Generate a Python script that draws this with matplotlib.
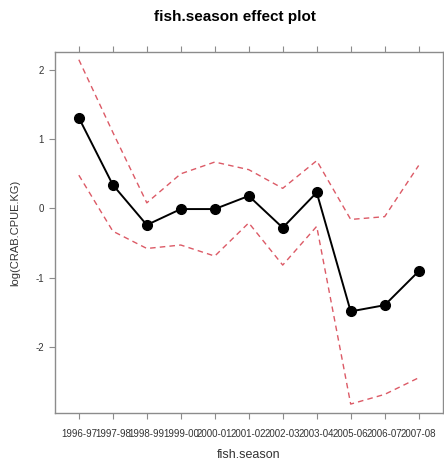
import matplotlib.pyplot as plt
import numpy as np

plt.rcParams['font.family'] = ['Liberation Sans', 'DejaVu Sans']

seasons = ["1996-97", "1997-98", "1998-99", "1999-00", "2000-01", "2001-02",
           "2002-03", "2003-04", "2005-06", "2006-07", "2007-08"]
effect = [1.31, 0.34, -0.24, -0.01, -0.01, 0.18, -0.28, 0.23, -1.49, -1.40, -0.91]
upper = [2.15, 1.10, 0.08, 0.50, 0.67, 0.56, 0.29, 0.69, -0.16, -0.12, 0.62]
lower = [0.48, -0.33, -0.58, -0.53, -0.69, -0.21, -0.82, -0.26, -2.83, -2.69, -2.45]
y_ticks = [-2, -1, 0, 1, 2]

fig = plt.figure(figsize=(4.44, 4.61), dpi=100)
ax = fig.add_axes([0.124, 0.104, 0.874, 0.783])

x = np.arange(len(seasons))
ax.plot(x, upper, color='#dc5a66', ls=(0, (4, 3)), lw=1)
ax.plot(x, lower, color='#dc5a66', ls=(0, (4, 3)), lw=1)
ax.plot(x, effect, color='black', lw=1.4, marker='o', ms=7)

ax.set_xlim(-0.7, 10.72)
ax.set_ylim(-2.96, 2.26)
ax.set_xticks(x)
ax.set_xticklabels(seasons)
ax.set_yticks(y_ticks)
ax.set_yticklabels([str(v) for v in y_ticks])

grey = '#8c8c8c'
for s in ax.spines.values():
    s.set_color(grey)
    s.set_linewidth(1)
ax.tick_params(axis='both', direction='out', length=4.5, width=0.8, color=grey,
               labelsize=7, labelcolor='#333333', top=True, right=True,
               labeltop=False, labelright=False)
ax.tick_params(axis='x', pad=7)

ax.set_xlabel("fish.season", fontsize=9, color='#333333', labelpad=7)
ax.set_ylabel("log(CRAB.CPUE.KG)", fontsize=8, color='#333333', labelpad=11)
fig.text(0.530, 0.963, "fish.season effect plot", ha='center', va='center',
         fontsize=11, fontweight='bold')

fig.savefig("out.png", dpi=100)
